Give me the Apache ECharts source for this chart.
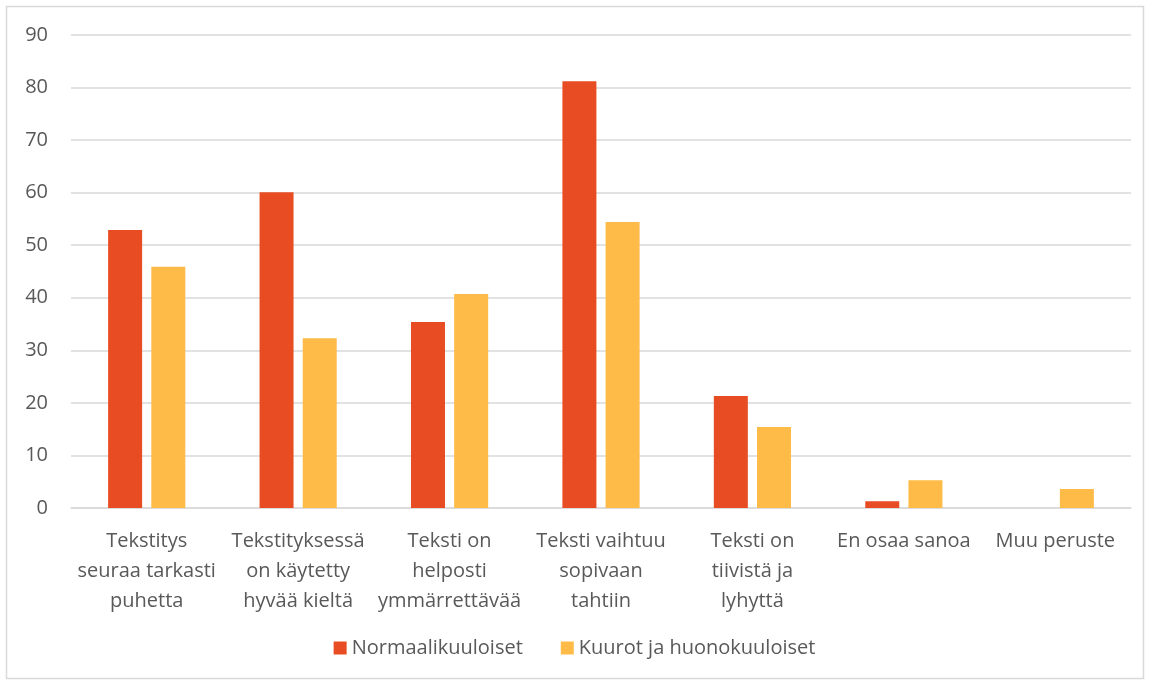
<!DOCTYPE html>
<html>
<head>
<meta charset="utf-8">
<script src="https://cdn.jsdelivr.net/npm/echarts@6/dist/echarts.min.js"></script>
<style>
html, body { margin: 0; padding: 0; background: #fff; }
#chart { width: 1149px; height: 684px; }
</style>
</head>
<body>
<div id="chart"></div>
<script>
var categories = ['Tekstitys\nseuraa tarkasti\npuhetta', 'Tekstityksessä\non käytetty\nhyvää kieltä', 'Teksti on\nhelposti\nymmärrettävää',
    'Teksti vaihtuu\nsopivaan\ntahtiin', 'Teksti on\ntiivistä ja\nlyhyttä', 'En osaa sanoa', 'Muu peruste'];
var normaali = [52.9, 60.1, 35.4, 81.2, 21.3, 1.3, 0];
var kuurot = [45.9, 32.3, 40.7, 54.4, 15.4, 5.3, 3.6];
var yTicks = [0, 10, 20, 30, 40, 50, 60, 70, 80, 90];

var myChart = echarts.init(document.getElementById('chart'));
var font = '"Open Sans", sans-serif';

var option = {
    animation: false,
    textStyle: { fontFamily: font },
    graphic: [{
        type: 'rect',
        shape: { x: 6.5, y: 6.5, width: 1137, height: 672 },
        style: { fill: 'none', stroke: '#d9d9d9', lineWidth: 1.5 }
    }],
    legend: {
        bottom: 21,
        left: 'center',
        itemWidth: 13,
        itemHeight: 13,
        itemGap: 38,
        icon: 'rect',
        textStyle: { color: '#595959', fontSize: 20, fontFamily: font }
    },
    grid: { left: 71, right: 18, top: 35, bottom: 176 },
    xAxis: {
        type: 'category',
        data: categories,
        axisLine: { lineStyle: { color: '#d9d9d9', width: 1.5 } },
        axisTick: { show: false },
        axisLabel: { color: '#595959', fontSize: 20, lineHeight: 30, margin: 18, interval: 0 }
    },
    yAxis: {
        type: 'value',
        min: yTicks[0],
        max: yTicks[yTicks.length - 1],
        interval: 10,
        axisLine: { show: false },
        axisTick: { show: false },
        axisLabel: { color: '#595959', fontSize: 20, margin: 23 },
        splitLine: { lineStyle: { color: '#d9d9d9', width: 1.5 } }
    },
    series: [{
        name: 'Normaalikuuloiset',
        type: 'bar',
        data: normaali,
        barWidth: 34,
        barGap: '27%',
        itemStyle: { color: '#e84c22' }
    }, {
        name: 'Kuurot ja huonokuuloiset',
        type: 'bar',
        data: kuurot,
        barWidth: 34,
        itemStyle: { color: '#ffbb48' }
    }]
};
myChart.setOption(option);
</script>
</body>
</html>
